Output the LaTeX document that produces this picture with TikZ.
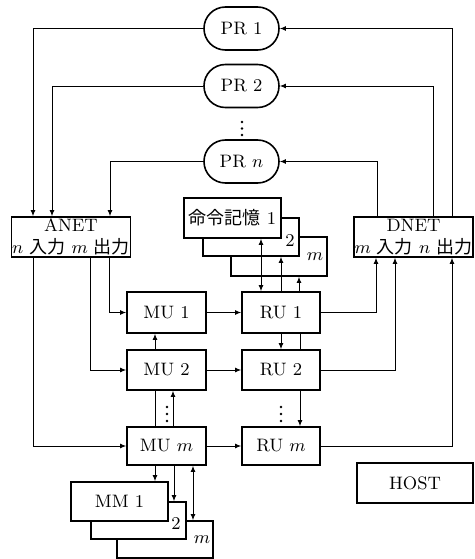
\documentclass[tikz,border=0pt]{standalone}
\usepackage{fontspec}
\newfontfamily\cjk{Noto Sans CJK JP}
\usetikzlibrary{arrows.meta}
\begin{document}
\begin{tikzpicture}[x=0.5pt,y=-0.5pt,
  box/.style={draw, line width=0.8pt, fill=white, inner sep=0.2pt, font=\fontsize{9}{11}\selectfont},
  prbox/.style={box, rounded corners=10.7pt, minimum width=37.5pt, minimum height=21.5pt},
  con/.style={line width=0.45pt},
  arr/.style={con, -{Latex[length=3pt,width=2.4pt]}},
  arrb/.style={con, {Latex[length=3pt,width=2.4pt]}-{Latex[length=3pt,width=2.4pt]}},
  lbl/.style={inner sep=0pt, font=\fontsize{9}{11}\selectfont},
  dot/.style={circle, fill, inner sep=0pt, minimum size=1.3pt}]
\useasboundingbox (0,0) rectangle (475,559);

% PR nodes
\node[prbox] (pr1) at (241.5,28.5) {PR 1};
\node[prbox] (pr2) at (241.5,86) {PR 2};
\node[prbox] (prn) at (241.5,161.5) {PR $n$};
\node[dot] (pd1) at (242,122) {};
\node[dot] (pd2) at (242,128.5) {};
\node[dot] (pd3) at (242,135) {};

% networks
\node[box, minimum width=58pt, minimum height=20pt, align=center] (anet) at (71,237)
  {ANET\\$n$ {\cjk 入力} $m$ {\cjk 出力}};
\node[box, minimum width=57.5pt, minimum height=20pt, align=center] (dnet) at (413.5,237)
  {DNET\\$m$ {\cjk 入力} $n$ {\cjk 出力}};

% instruction memories
\node[box, minimum width=48pt, minimum height=19.5pt] (memm) at (279,256.5) {};
\node[lbl] (memmlbl) at (315,257) {$m$};
\node[box, minimum width=48pt, minimum height=19pt] (mem2) at (251,237) {};
\node[lbl] (mem2lbl) at (290,240) {2};
\node[box, minimum width=48.5pt, minimum height=20pt] (mem1) at (232.5,218) {{\cjk 命令記憶} 1};

% MU / RU
\node[box, minimum width=39.5pt, minimum height=20.5pt] (mu1) at (166.5,312.5) {MU 1};
\node[box, minimum width=39.5pt, minimum height=20pt] (mu2) at (166.5,370) {MU 2};
\node[box, minimum width=39.5pt, minimum height=19pt] (mum) at (166.5,446) {MU $m$};
\node[box, minimum width=39pt, minimum height=20.5pt] (ru1) at (281,312.5) {RU 1};
\node[box, minimum width=39pt, minimum height=20pt] (ru2) at (281,370) {RU 2};
\node[box, minimum width=39pt, minimum height=19pt] (rum) at (281,446) {RU $m$};
\node[dot] (md1) at (167,407) {};
\node[dot] (md2) at (167,414) {};
\node[dot] (md3) at (167,421) {};
\node[dot] (rd1) at (281,407) {};
\node[dot] (rd2) at (281,414) {};
\node[dot] (rd3) at (281,421) {};

% main memories
\node[box, minimum width=48pt, minimum height=18.5pt] (mmm) at (165,539.5) {};
\node[lbl] (mmmlbl) at (202,540) {$m$};
\node[box, minimum width=47.5pt, minimum height=18.5pt] (mm2) at (138.5,520.5) {};
\node[lbl] (mm2lbl) at (176,523) {2};
\node[box, minimum width=48.5pt, minimum height=19.5pt] (mm1) at (119.5,501.5) {MM 1};

% host
\node[box, minimum width=58pt, minimum height=20pt] (host) at (415,483) {HOST};

% PR <-> networks
\draw[arr] (pr1.west) -| (anet.north -| 33,0);
\draw[arr] (pr2.west) -| (anet.north -| 52,0);
\draw[arr] (prn.west) -| (anet.north -| 110,0);
\draw[arr] (dnet.north -| 452,0) |- (pr1.east);
\draw[arr] (dnet.north -| 433,0) |- (pr2.east);
\draw[arr] (dnet.north -| 377,0) |- (prn.east);

% ANET -> MU
\draw[arr] (anet.south -| 109,0) |- (mu1.west);
\draw[arr] (anet.south -| 90,0) |- (mu2.west);
\draw[arr] (anet.south -| 33,0) |- (mum.west);

% MU -> RU
\draw[arr] (mu1.east) -- (ru1.west);
\draw[arr] (mu2.east) -- (ru2.west);
\draw[arr] (mum.east) -- (rum.west);

% RU -> DNET
\draw[arr] (ru1.east) -| (dnet.south -| 376,0);
\draw[arr] (ru2.east) -| (dnet.south -| 395,0);
\draw[arr] (rum.east) -| (dnet.south -| 452,0);

% MU chain
\draw[arr] (mu2.north -| 155,0) -- (mu1.south -| 155,0);
\draw[con] (mum.north -| 155,0) -- (mu2.south -| 155,0);
\draw[arr] (mum.north -| 173,0) -- (mu2.south -| 173,0);

% RU chain
\draw[arr] (ru1.south) -- (ru2.north);
\draw[con] (ru2.north -| 300,0) -- (ru1.south -| 300,0);
\draw[arr] (ru2.south -| 300,0) -- (rum.north -| 300,0);

% instruction memory <-> RU1
\draw[arrb] (mem1.south -| 261,0) -- (ru1.north -| 261,0);
\draw[arr] (ru1.north -| 281,0) -- (mem2.south -| 281,0);
\draw[arr] (ru1.north -| 299,0) -- (memm.south -| 299,0);

% MU m <-> main memories
\draw[arr] (mum.south -| 155,0) -- (mm1.north -| 155,0);
\draw[arr] (mum.south -| 174,0) -- (mm2.north -| 174,0);
\draw[arrb] (mum.south -| 193,0) -- (mmm.north -| 193,0);
\end{tikzpicture}
\end{document}
